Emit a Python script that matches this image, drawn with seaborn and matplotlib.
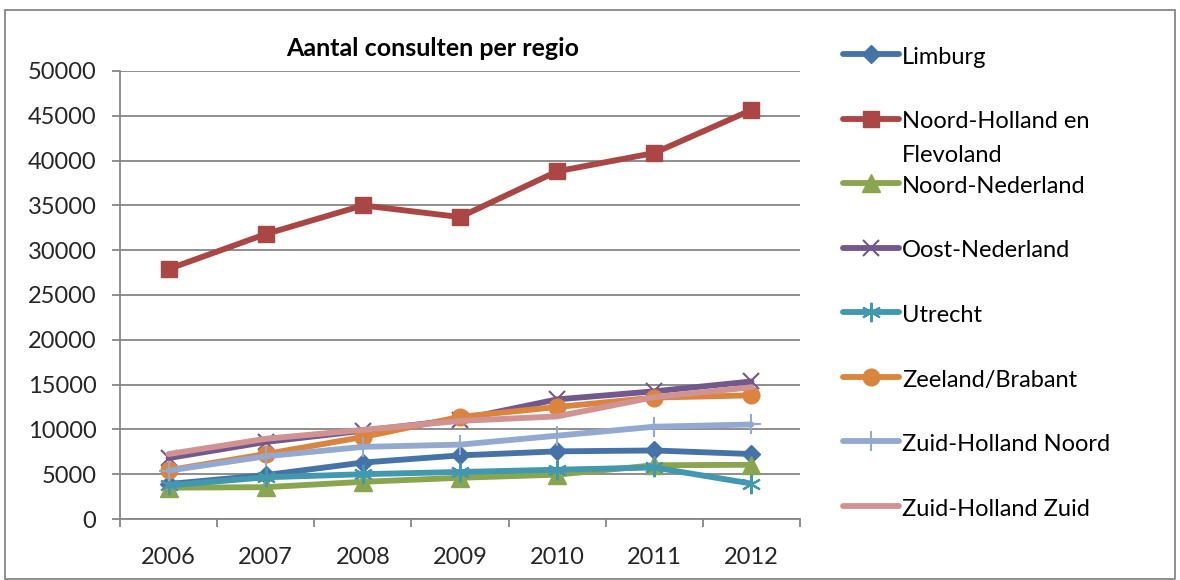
import matplotlib
matplotlib.use('Agg')
import matplotlib.pyplot as plt
import seaborn as sns
import pandas as pd
from matplotlib.lines import Line2D
from matplotlib.patches import Rectangle

years = [2006, 2007, 2008, 2009, 2010, 2011, 2012]
limburg = [3900, 4900, 6300, 7100, 7550, 7650, 7250]
noord_holland = [27900, 31800, 35000, 33700, 38800, 40850, 45650]
noord_nederland = [3500, 3550, 4150, 4600, 4950, 6000, 6050]
oost_nederland = [6800, 8600, 9850, 11100, 13350, 14250, 15350]
utrecht = [3750, 4650, 5000, 5250, 5500, 5750, 3950]
zeeland_brabant = [5450, 7250, 9150, 11400, 12500, 13550, 13800]
zh_noord = [5400, 7000, 8050, 8300, 9300, 10300, 10550]
zh_zuid = [7250, 8950, 9950, 10950, 11450, 13600, 14700]

names = ["Limburg", "Noord-Holland en\nFlevoland", "Noord-Nederland", "Oost-Nederland",
         "Utrecht", "Zeeland/Brabant", "Zuid-Holland Noord", "Zuid-Holland Zuid"]
series = [limburg, noord_holland, noord_nederland, oost_nederland,
          utrecht, zeeland_brabant, zh_noord, zh_zuid]
colors = ["#4572A7", "#AA4643", "#89A54E", "#71588F",
          "#4198AF", "#DB843D", "#93A9CF", "#D19392"]
markers = ["D", "s", "^", "x", (6, 2, 0), "o", "+", None]
msizes = [9.5, 11.5, 12.5, 11.5, 14, 12, 14, 0]

sns.set_theme(style="white")
plt.rcParams['font.family'] = ['Lato', 'DejaVu Sans']

W, H = 1180, 580
fig = plt.figure(figsize=(W / 100, H / 100), dpi=100)
fig.patch.set_facecolor("white")
L, R, T, B = 120, 800, 71, 519
ax = fig.add_axes([L / W, 1 - B / H, (R - L) / W, (B - T) / H])

rows = []
for n, s in zip(names, series):
    for y, v in zip(years, s):
        rows.append({"jaar": y, "consulten": v, "regio": n})
df = pd.DataFrame(rows)

lw = 4.2
thin = ("x", "+", (6, 2, 0))
for n, c, m, ms in zip(names, colors, markers, msizes):
    sub = df[df["regio"] == n]
    kw = dict(color=c, linewidth=lw, ax=ax, legend=False, zorder=3)
    if m is not None:
        kw.update(marker=m, markersize=ms, markerfacecolor=c, markeredgecolor=c,
                  markeredgewidth=1.5 if m in thin else 1)
    sns.lineplot(data=sub, x="jaar", y="consulten", **kw)

gray = "#868686"
ax.set_xlim(2005.5, 2012.5)
ax.set_ylim(0, 50000)
ax.set_yticks(range(0, 50001, 5000))
ax.set_xticks([y - 0.5 for y in years] + [years[-1] + 0.5])
ax.set_xticklabels([])
ax.set_xticks(years, minor=True)
ax.set_xticklabels([str(y) for y in years], minor=True)
ax.yaxis.grid(True, color=gray, linewidth=1.3)
ax.xaxis.grid(False)
ax.set_axisbelow(True)
for sp in ["top", "right"]:
    ax.spines[sp].set_visible(False)
for sp in ["left", "bottom"]:
    ax.spines[sp].set_color(gray)
    ax.spines[sp].set_linewidth(1.3)
ax.tick_params(axis="y", which="major", direction="out", length=6, width=1.3,
               color=gray, pad=11, labelsize=17, left=True)
ax.tick_params(axis="x", which="major", direction="out", length=6, width=1.3,
               color=gray, bottom=True)
ax.tick_params(axis="x", which="minor", length=0, pad=20, labelsize=17)
ax.set_xlabel("")
ax.set_ylabel("")

fig.text(433 / W, 1 - 48 / H, "Aantal consulten per regio", ha="center", va="center",
         fontsize=18, fontweight="bold", color="black")

# legend
for i, (n, c, m, ms) in enumerate(zip(names, colors, markers, msizes)):
    yc = 54 + 64.57 * i
    fy = 1 - yc / H
    ln = Line2D([843 / W, 899 / W], [fy, fy], transform=fig.transFigure, color=c,
                linewidth=lw, solid_capstyle="round")
    fig.add_artist(ln)
    if m is not None:
        mk = Line2D([871 / W], [fy], transform=fig.transFigure, color=c, marker=m,
                    markersize=ms, markerfacecolor=c, markeredgecolor=c,
                    markeredgewidth=1.5 if m in thin else 1,
                    linestyle="none")
        fig.add_artist(mk)
    lines = n.split("\n")
    for j, t in enumerate(lines):
        fig.text(902 / W, 1 - (yc + 9.7 + 33.5 * j) / H, t, ha="left", va="baseline",
                 fontsize=17, color="black")

fig.add_artist(Rectangle((5 / W, 1 / H), (1175 - 5) / W, (578 - 9) / H,
                         transform=fig.transFigure, fill=False, edgecolor=gray,
                         linewidth=1.3))

fig.savefig("out.png", dpi=100, facecolor="white")
